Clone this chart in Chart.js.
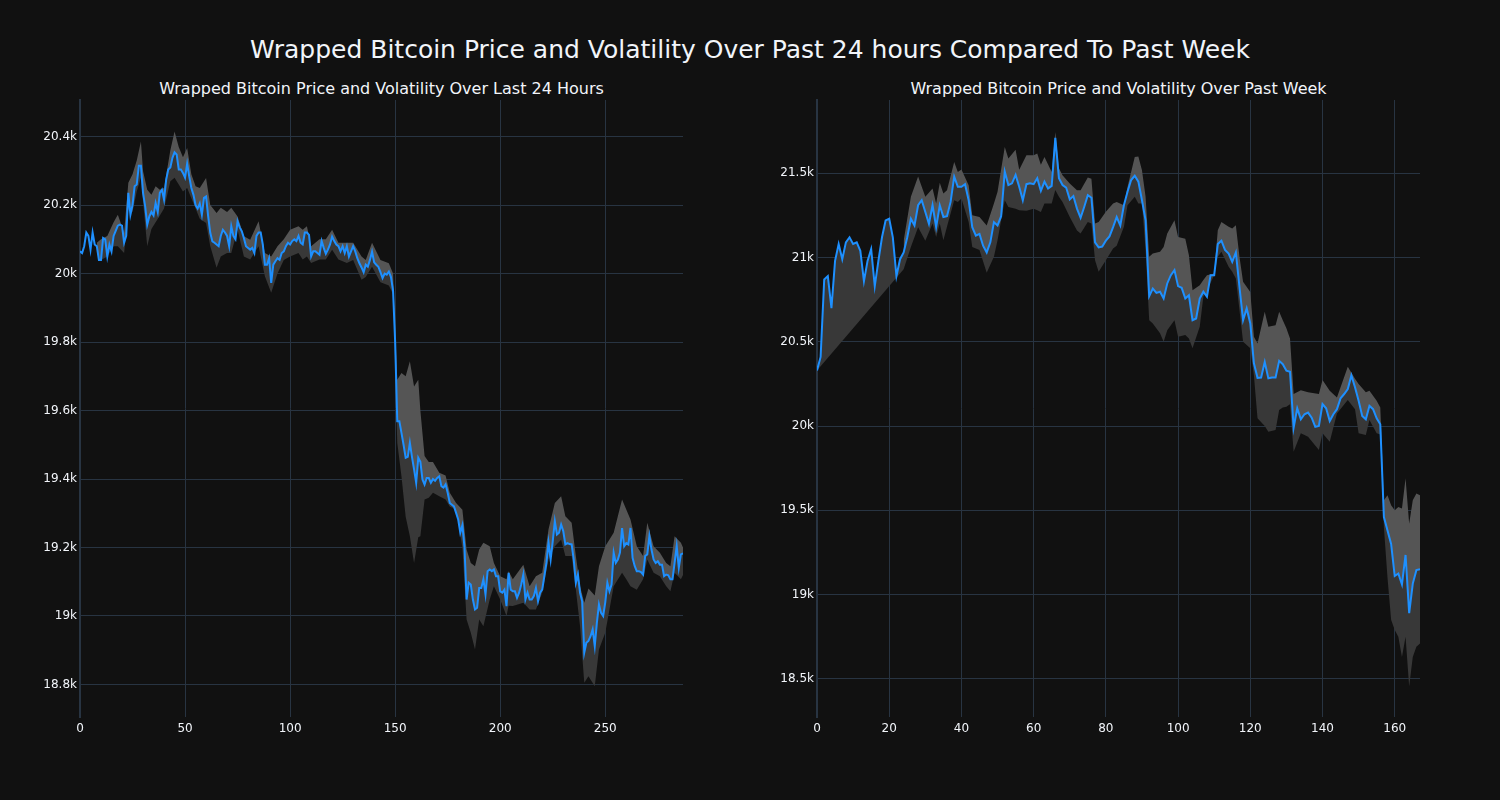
<!DOCTYPE html>
<html>
<head>
<meta charset="utf-8">
<script src="https://cdn.jsdelivr.net/npm/chart.js@4.4.1/dist/chart.umd.min.js"></script>
<style>
  html, body { margin:0; padding:0; background:#111111; width:1500px; height:800px; overflow:hidden; }
  .t { position:absolute; color:#f2f5fa; font-family:"DejaVu Sans", sans-serif; white-space:nowrap; text-align:center; }
  canvas { position:absolute; top:0; }
</style>
</head>
<body>
<div class="t" style="left:0;width:1500px;top:35px;line-height:30px;font-size:25px;">Wrapped Bitcoin Price and Volatility Over Past 24 hours Compared To Past Week</div>
<div class="t" style="left:80px;width:603px;top:79px;line-height:20px;font-size:16px;">Wrapped Bitcoin Price and Volatility Over Last 24 Hours</div>
<div class="t" style="left:817px;width:603px;top:79px;line-height:20px;font-size:16px;">Wrapped Bitcoin Price and Volatility Over Past Week</div>
<canvas id="c1" width="750" height="800" style="left:0"></canvas>
<canvas id="c2" width="750" height="800" style="left:750px"></canvas>
<script>
// ---- Last 24 hours (5-minute steps, index 0..287), values in thousands USD ----
const dayPrice = [
20.065,20.06,20.08,20.12,20.11,20.07,20.12,20.085,20.08,20.04,
20.04,20.104,20.10,20.05,20.085,20.065,20.11,20.125,20.14,20.143,
20.14,20.09,20.11,20.236,20.172,20.20,20.255,20.26,20.315,20.315,
20.236,20.197,20.143,20.167,20.18,20.17,20.206,20.18,20.236,20.245,
20.216,20.274,20.304,20.31,20.338,20.354,20.348,20.304,20.304,20.294,
20.28,20.321,20.283,20.25,20.23,20.20,20.19,20.205,20.172,20.221,
20.225,20.167,20.119,20.094,20.09,20.085,20.08,20.11,20.128,20.12,
20.11,20.08,20.138,20.11,20.10,20.153,20.135,20.124,20.104,20.08,
20.075,20.07,20.075,20.06,20.11,20.12,20.12,20.085,20.026,20.026,
20.045,19.973,20.026,20.036,20.045,20.04,20.06,20.065,20.08,20.09,
20.085,20.095,20.10,20.095,20.11,20.09,20.085,20.12,20.12,20.113,
20.05,20.065,20.065,20.06,20.055,20.095,20.075,20.058,20.07,20.085,
20.108,20.095,20.085,20.08,20.065,20.08,20.06,20.08,20.05,20.065,
20.08,20.065,20.045,20.03,20.018,20.004,20.026,20.02,20.04,20.064,
20.033,20.026,20.02,20.004,19.987,20.0,19.997,20.006,19.99,19.95,
19.80,19.569,19.569,19.535,19.50,19.462,19.465,19.506,19.465,19.428,
19.389,19.462,19.45,19.399,19.384,19.403,19.403,19.389,19.40,19.395,
19.403,19.408,19.379,19.375,19.384,19.36,19.33,19.325,19.32,19.301,
19.282,19.243,19.265,19.20,19.048,19.097,19.092,19.048,19.019,19.024,
19.082,19.082,19.107,19.063,19.131,19.136,19.131,19.136,19.116,19.116,
19.072,19.068,19.077,19.029,19.126,19.077,19.072,19.072,19.053,19.068,
19.092,19.121,19.048,19.068,19.048,19.048,19.058,19.082,19.043,19.068,
19.077,19.116,19.155,19.215,19.165,19.218,19.277,19.238,19.243,19.267,
19.248,19.209,19.213,19.21,19.209,19.165,19.097,19.121,19.068,19.043,
18.893,18.922,18.927,18.941,18.961,18.912,18.98,19.034,19.009,19.0,
19.04,19.097,19.072,19.092,19.185,19.155,19.165,19.185,19.257,19.204,
19.213,19.209,19.257,19.17,19.146,19.131,19.131,19.128,19.121,19.175,
19.18,19.233,19.194,19.165,19.155,19.16,19.15,19.15,19.116,19.121,
19.119,19.107,19.107,19.155,19.204,19.141,19.18,19.183
];
const dayBandX = [8,10,13,16,18,21,23,25,27,29,30,32,34,36,38,40,43,45,47,49,51,53,55,57,60,62,65,67,70,72,75,78,81,85,88,91,94,97,100,104,106,108,110,114,117,120,123,127,130,134,136,139,143,147,149,
151,153,155,157,159,161,162,164,166,168,171,174,176,179,182,184,186,188,190,192,195,197,200,203,204,206,211,214,217,220,223,226,229,231,234,236,238,240,242,245,247,250,254,258,260,262,265,268,270,273,276,279,281,283,286,287];
const dayUpper = [20.09,20.10,20.11,20.15,20.172,20.12,20.265,20.29,20.33,20.386,20.30,20.245,20.23,20.255,20.245,20.25,20.36,20.415,20.37,20.34,20.367,20.29,20.255,20.25,20.279,20.20,20.177,20.192,20.18,20.192,20.167,20.109,20.099,20.153,20.06,20.05,20.08,20.10,20.128,20.138,20.128,20.138,20.08,20.10,20.10,20.128,20.09,20.09,20.09,20.05,20.04,20.09,20.04,20.03,20.0,
19.69,19.71,19.70,19.744,19.67,19.69,19.60,19.467,19.45,19.45,19.418,19.41,19.36,19.33,19.31,19.194,19.155,19.145,19.194,19.214,19.204,19.155,19.116,19.107,19.131,19.107,19.15,19.087,19.116,19.126,19.253,19.33,19.35,19.291,19.272,19.175,19.087,19.039,19.08,19.06,19.145,19.204,19.243,19.34,19.311,19.282,19.204,19.175,19.272,19.204,19.185,19.155,19.145,19.233,19.214,19.20];
const dayLower = [20.07,20.04,20.05,20.08,20.08,20.06,20.187,20.18,20.24,20.28,20.21,20.08,20.13,20.15,20.17,20.19,20.27,20.28,20.26,20.24,20.25,20.22,20.19,20.16,20.148,20.08,20.017,20.05,20.06,20.06,20.128,20.05,20.041,20.08,19.992,19.944,20.00,20.04,20.05,20.06,20.041,20.05,20.031,20.041,20.041,20.07,20.041,20.031,20.04,19.982,19.99,20.02,19.975,19.965,19.94,
19.506,19.408,19.29,19.233,19.155,19.23,19.233,19.34,19.345,19.36,19.35,19.34,19.32,19.31,19.20,18.99,18.951,18.902,18.99,18.97,19.048,19.087,19.048,19.0,19.03,19.029,19.039,19.019,19.019,19.068,19.165,19.204,19.223,19.175,19.175,19.077,18.97,18.805,18.824,18.795,18.902,18.951,19.087,19.126,19.107,19.087,19.077,19.107,19.165,19.126,19.116,19.087,19.072,19.126,19.107,19.12];
const dayXTicks = [0,50,100,150,200,250];
const dayYTicks = [18.8,19.0,19.2,19.4,19.6,19.8,20.0,20.2,20.4];
const dayYLabels = ['18.8k','19k','19.2k','19.4k','19.6k','19.8k','20k','20.2k','20.4k'];

// ---- Past week (hourly, index 0..167), values in thousands USD ----
const weekPrice = [
20.33,20.41,20.87,20.89,20.70,20.98,21.08,20.99,21.09,21.12,
21.08,21.09,21.04,20.86,20.98,21.05,20.83,20.98,21.12,21.22,
21.23,21.12,20.89,20.99,21.03,21.12,21.23,21.19,21.31,21.34,
21.27,21.20,21.31,21.18,21.31,21.24,21.245,21.33,21.48,21.42,
21.42,21.435,21.34,21.18,21.13,21.14,21.07,21.03,21.09,21.21,
21.19,21.245,21.51,21.43,21.44,21.49,21.42,21.34,21.435,21.44,
21.435,21.47,21.395,21.45,21.41,21.425,21.71,21.47,21.43,21.415,
21.345,21.365,21.29,21.235,21.30,21.37,21.355,21.09,21.06,21.065,
21.10,21.125,21.18,21.24,21.19,21.31,21.39,21.46,21.485,21.45,
21.34,21.22,20.77,20.815,20.79,20.797,20.757,20.846,20.895,20.925,
20.83,20.82,20.757,20.776,20.628,20.638,20.757,20.797,20.767,20.895,
20.895,21.08,21.10,21.045,21.023,20.974,21.03,20.826,20.628,20.698,
20.609,20.372,20.286,20.288,20.38,20.283,20.288,20.288,20.387,20.367,
20.328,20.322,19.99,20.105,20.04,20.07,20.08,20.05,19.995,20.0,
20.13,20.105,20.03,20.07,20.10,20.165,20.19,20.22,20.30,20.23,
20.15,20.06,20.04,20.12,20.10,20.046,20.01,19.46,19.38,19.30,
19.11,19.125,19.06,19.235,18.89,19.065,19.145,19.15
];
const weekBandX = [0,24,26,28,30,32,33,34,35,36,38,39,40,42,43,45,47,49,50,52,53,55,56,58,60,61,62,63,65,66,67,68,70,72,73,75,76,77,78,80,82,83,85,86,88,89,90,91,92,93,95,96,97,99,100,102,103,104,106,107,108,110,111,112,114,115,116,117,118,120,121,122,124,125,127,128,129,130,131,132,134,136,139,140,142,144,147,149,150,152,153,155,156,157,158,159,160,161,162,163,164,165,166,167];
const weekUpper = [null,21.10,21.36,21.48,21.36,21.41,21.32,21.443,21.38,21.399,21.567,21.508,21.522,21.429,21.251,21.241,21.19,21.32,21.39,21.656,21.587,21.64,21.52,21.607,21.607,21.617,21.55,21.597,21.508,21.745,21.53,21.488,21.439,21.399,21.399,21.474,21.468,21.202,21.211,21.271,21.32,21.33,21.31,21.419,21.597,21.60,21.518,21.36,21.004,21.024,21.034,21.063,21.142,21.221,21.122,21.112,21.014,20.806,20.836,20.866,20.895,20.905,21.162,21.211,21.182,21.172,21.192,21.004,20.856,20.796,20.53,20.49,20.678,20.589,20.598,20.678,20.628,20.58,20.52,20.19,20.213,20.20,20.19,20.273,20.21,20.17,20.352,20.28,20.25,20.20,20.21,20.15,20.11,19.56,19.59,19.53,19.50,19.52,19.51,19.69,19.42,19.56,19.60,19.59];
const weekLower = [20.33,20.93,21.063,21.18,21.10,21.202,21.122,21.202,21.103,21.182,21.34,21.33,21.35,21.211,21.063,21.044,20.909,21.004,21.103,21.34,21.30,21.29,21.28,21.277,21.29,21.28,21.27,21.32,21.32,21.40,21.36,21.33,21.241,21.16,21.142,21.211,21.202,20.984,20.915,20.984,21.053,21.07,21.182,21.31,21.36,21.32,21.32,21.044,20.628,20.609,20.55,20.50,20.569,20.628,20.53,20.54,20.52,20.461,20.589,20.767,20.806,20.895,21.004,21.034,20.945,20.915,20.876,20.688,20.50,20.461,20.30,20.046,20.0,19.966,19.976,20.095,20.11,20.114,20.13,19.848,19.957,19.937,19.858,19.957,19.907,20.075,20.154,20.10,19.957,19.947,20.036,19.957,19.95,19.40,19.10,18.85,18.79,18.75,18.63,18.75,18.455,18.63,18.69,18.71];
const weekXTicks = [0,20,40,60,80,100,120,140,160];
const weekYTicks = [18.5,19.0,19.5,20.0,20.5,21.0,21.5];
const weekYLabels = ['18.5k','19k','19.5k','20k','20.5k','21k','21.5k'];

const GRID = '#283442';
const TEXT = '#f2f5fa';
const LINE = '#1E90FF';
const FILL_UP = '#555555';
const FILL_DN = '#383838';
const FONT = {family: 'DejaVu Sans', size: 12};

function pts(xs, ys) { return ys.map((v, i) => ({x: xs[i], y: v})); }

function makeChart(id, priceVals, bandX, upper, lower, xMax, yMin, yMax, xTicks, yTicks, yLabels, yAxisW, padRight) {
  const priceX = priceVals.map((_, i) => i);
  new Chart(document.getElementById(id), {
    type: 'line',
    data: {
      datasets: [
        {data: pts(priceX, priceVals), borderColor: LINE, borderWidth: 2, pointRadius: 0, fill: false, tension: 0},
        {data: pts(bandX, upper), borderColor: 'rgba(0,0,0,0)', borderWidth: 0, pointRadius: 0, backgroundColor: FILL_UP, fill: 0, tension: 0},
        {data: pts(bandX, lower), borderColor: 'rgba(0,0,0,0)', borderWidth: 0, pointRadius: 0, backgroundColor: FILL_DN, fill: 0, tension: 0, spanGaps: true}
      ]
    },
    options: {
      responsive: false, animation: false, devicePixelRatio: 1,
      layout: {padding: {left: 0, right: padRight, top: 100, bottom: 0}},
      plugins: {legend: {display: false}, tooltip: {enabled: false}, title: {display: false}},
      scales: {
        x: {
          type: 'linear', min: 0, max: xMax,
          grid: {color: GRID, lineWidth: 1, drawTicks: false},
          border: {display: false},
          afterBuildTicks: s => { s.ticks = xTicks.map(v => ({value: v})); },
          afterFit: s => { s.height = 83; },
          ticks: {color: TEXT, font: FONT, padding: 5, maxRotation: 0, autoSkip: false, callback: v => String(v)}
        },
        y: {
          type: 'linear', min: yMin, max: yMax,
          grid: {color: GRID, lineWidth: 1, drawTicks: false},
          border: {display: true, color: GRID, width: 2},
          afterBuildTicks: s => { s.ticks = yTicks.map(v => ({value: v})); },
          afterFit: s => { s.width = yAxisW; },
          ticks: {color: TEXT, font: FONT, padding: 3, autoSkip: false, callback: (v, i) => yLabels[i]}
        }
      }
    }
  });
}

makeChart('c1', dayPrice, dayBandX, dayUpper, dayLower, 287, 18.705, 20.507, dayXTicks, dayYTicks, dayYLabels, 80, 67);
makeChart('c2', weekPrice, weekBandX, weekUpper, weekLower, 167, 18.2735, 21.9346, weekXTicks, weekYTicks, weekYLabels, 67, 80);
</script>
</body>
</html>
